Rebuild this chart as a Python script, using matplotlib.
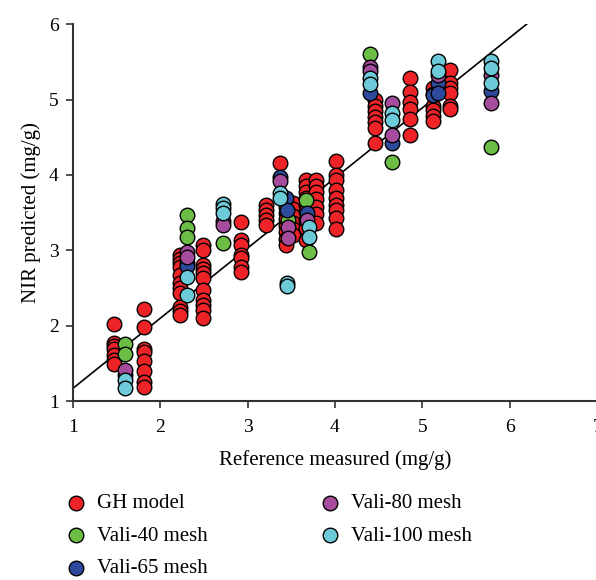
import matplotlib
matplotlib.use('Agg')
import matplotlib.pyplot as plt
import numpy as np

plt.rcParams['font.family'] = ['Liberation Serif', 'DejaVu Serif']

# GH model (calibration)
gh_x = [1.47] * 7 + [1.81] * 8 + [2.23] * 11 + [2.49] * 11 + [2.93] * 7 + [3.21] * 5 + [3.37] \
    + [3.44] * 8 + [3.52] * 6 + [3.67] * 9 + [3.78] * 7 + [4.01] * 9 + [4.46] * 7 \
    + [4.86] * 6 + [5.12] * 6 + [5.32] * 6
gh_y = [2.03, 1.77, 1.73, 1.70, 1.62, 1.55, 1.50,
        2.22, 1.98, 1.70, 1.65, 1.53, 1.40, 1.26, 1.19,
        2.94, 2.88, 2.83, 2.78, 2.67, 2.57, 2.50, 2.43, 2.25, 2.20, 2.14,
        3.07, 3.00, 2.81, 2.76, 2.70, 2.63, 2.47, 2.34, 2.28, 2.21, 2.10,
        3.38, 3.14, 3.07, 2.94, 2.90, 2.78, 2.71,
        3.60, 3.54, 3.47, 3.40, 3.34,
        4.16,
        3.67, 3.58, 3.50, 3.42, 3.33, 3.24, 3.15, 3.07,
        3.63, 3.55, 3.45, 3.37, 3.28, 3.20,
        3.93, 3.85, 3.78, 3.70, 3.60, 3.52, 3.40, 3.30, 3.14,
        3.93, 3.85, 3.77, 3.68, 3.58, 3.48, 3.37,
        4.18, 4.00, 3.93, 3.80, 3.70, 3.60, 3.53, 3.43, 3.29,
        4.99, 4.92, 4.85, 4.77, 4.70, 4.62, 4.42,
        5.28, 5.10, 4.97, 4.87, 4.74, 4.53,
        5.15, 5.07, 4.92, 4.86, 4.78, 4.71,
        5.39, 5.22, 5.15, 5.08, 4.92, 4.88]

# validation sets
v40_x = [1.60, 1.60, 2.31, 2.31, 2.31, 2.72, 3.46, 3.67, 3.70, 4.40, 4.65, 5.79]
v40_y = [1.76, 1.63, 3.47, 3.30, 3.18, 3.10, 3.41, 3.67, 2.98, 5.60, 4.17, 4.37]

v65_x = [1.60, 2.31, 2.31, 3.37, 3.39, 3.44, 3.45, 3.68, 4.40, 4.65, 5.12, 5.18, 5.18, 5.79]
v65_y = [1.35, 2.84, 2.80, 3.97, 3.72, 3.70, 3.53, 3.49, 5.08, 4.43, 5.06, 5.22, 5.08, 5.11]

v80_x = [1.60, 2.31, 2.31, 2.72, 2.72, 3.37, 3.46, 3.46, 3.68, 4.40, 4.40, 4.65, 4.65, 5.18, 5.79, 5.79]
v80_y = [1.41, 2.98, 2.91, 3.39, 3.34, 3.92, 3.31, 3.16, 3.40, 5.43, 5.38, 4.95, 4.53, 5.32, 5.32, 4.95]

v100_x = [1.60, 1.60, 2.31, 2.31, 2.72, 2.72, 2.72, 3.37, 3.37, 3.45, 3.45, 3.70, 3.70,
          4.40, 4.40, 4.65, 4.65, 5.18, 5.18, 5.79, 5.79, 5.79]
v100_y = [1.28, 1.18, 2.65, 2.41, 3.62, 3.56, 3.49, 3.76, 3.69, 2.57, 2.53, 3.31, 3.18,
          5.28, 5.21, 4.82, 4.73, 5.51, 5.38, 5.51, 5.42, 5.22]

# fit line
line_x = [1.0, 6.2]
slope = 0.93
intercept = 0.24

fig = plt.figure(figsize=(5.96, 5.8), dpi=100)
ax = fig.add_axes([0.122, 0.308, 0.88, 0.6505])

line_y = [slope * v + intercept for v in line_x]
ax.plot(line_x, line_y, color='black', lw=1.2, zorder=1)

kw = dict(s=110, edgecolors='black', linewidths=1.0, zorder=2)
ax.scatter(gh_x, gh_y, color='#ED2327', label='GH model', **kw)
ax.scatter(v40_x, v40_y, color='#6BBD45', label='Vali-40 mesh', **kw)
ax.scatter(v65_x, v65_y, color='#2D4A9C', label='Vali-65 mesh', **kw)
ax.scatter(v80_x, v80_y, color='#A54C9C', label='Vali-80 mesh', **kw)
ax.scatter(v100_x, v100_y, color='#6DCAD9', label='Vali-100 mesh', **kw)

ax.set_xlim(1, 7)
ax.set_ylim(1, 6)
ax.set_xticks([1, 2, 3, 4, 5, 6, 7])
ax.set_yticks([1, 2, 3, 4, 5, 6])
ax.spines['top'].set_visible(False)
ax.spines['right'].set_visible(False)
for sp in ['left', 'bottom']:
    ax.spines[sp].set_linewidth(1.5)
    ax.spines[sp].set_color('#333333')
ax.tick_params(direction='out', length=5, width=1.2, labelsize=14, color='#333333', pad=5)
ax.tick_params(axis='x', pad=8)
ax.set_xlabel('Reference measured (mg/g)', fontsize=15, labelpad=10)
ax.set_ylabel('NIR predicted (mg/g)', fontsize=15, labelpad=6)

fig.legend(loc='upper left', bbox_to_anchor=(0.110, 0.149), ncol=2, frameon=False,
           fontsize=15, handlelength=1.0, handletextpad=0.5, columnspacing=5.4,
           labelspacing=0.62, borderpad=0, borderaxespad=0,
           scatterpoints=1, markerscale=1.0)

fig.savefig('out.png', dpi=100)
